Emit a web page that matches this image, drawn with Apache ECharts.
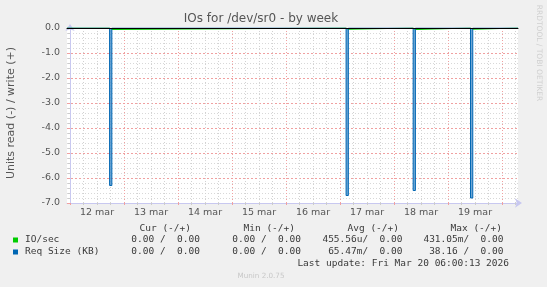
<!DOCTYPE html>
<html>
<head>
<meta charset="utf-8">
<script src="https://cdn.jsdelivr.net/npm/echarts@6/dist/echarts.min.js"></script>
<style>html,body{margin:0;padding:0;background:#f0f0f0;}#c{width:547px;height:287px;}</style>
</head>
<body>
<div id="c"></div>
<script>
// ---- data (hours since 12 mar 00:00) ----
var xMin = -4 / 3;
var xMax = 199.1;
var dayBoundaries = [0, 24, 48, 72, 96, 120, 144, 168, 192];
var sixHourLines = [6, 12, 18, 30, 36, 42, 54, 60, 66, 78, 84, 90, 102, 108, 114, 126, 132, 138, 150, 156, 162, 174, 180, 186, 198];
var dayLabelHours = [12, 36, 60, 84, 108, 132, 156, 180];
var dayLabels = ['12 mar', '13 mar', '14 mar', '15 mar', '16 mar', '17 mar', '18 mar', '19 mar'];
var spikeHours = [18.1, 123.2, 153.0, 178.5];
var reqSizeValues = [-6.3, -6.7, -6.5, -6.8];
var ioSecValues = [-0.06, -0.05, -0.06, -0.05];
var sampleHours = 1;

var legendNames = ['IO/sec', 'Req Size (KB)'];
var legendColors = ['#00cc00', '#0066b3'];
var curCol = ['0.00 /  0.00', '0.00 /  0.00'];
var minCol = ['0.00 /  0.00', '0.00 /  0.00'];
var avgCol = ['455.56u/  0.00', '65.47m/  0.00'];
var maxCol = ['431.05m/  0.00', '38.16 /  0.00'];
var headers = ['Cur (-/+)', 'Min (-/+)', 'Avg (-/+)', 'Max (-/+)'];
var lastUpdate = 'Last update: Fri Mar 20 06:00:13 2026';

function buildSteps(hours, values) {
  var d = [[xMin, 0]];
  for (var i = 0; i < hours.length; i++) {
    var a = hours[i] - sampleHours / 2, b = hours[i] + sampleHours / 2;
    d.push([a, 0], [a, values[i]], [b, values[i]], [b, 0]);
  }
  d.push([xMax, 0]);
  return d;
}

var chart = echarts.init(document.getElementById('c'), null, {renderer: 'canvas'});
var mono = 'DejaVu Sans Mono';
var sans = 'DejaVu Sans';
var txtColor = '#3a3a3a';

var graphics = [];
graphics.push({type: 'text', x: 261, y: 19, style: {text: 'IOs for /dev/sr0 - by week', font: '12px "DejaVu Sans"', fill: '#555', align: 'center', verticalAlign: 'middle'}});
graphics.push({type: 'text', x: 11, y: 113, rotation: Math.PI / 2, style: {text: 'Units read (-) / write (+)', font: '11px "DejaVu Sans"', fill: '#555', align: 'center', verticalAlign: 'middle'}});
graphics.push({type: 'text', x: 539, y: 53, rotation: -Math.PI / 2, style: {text: 'RRDTOOL / TOBI OETIKER', font: '7.5px "DejaVu Sans"', fill: '#d0d0d0', align: 'center', verticalAlign: 'middle'}});
var colRight = [191, 295, 399, 502];
for (var h = 0; h < headers.length; h++) {
  graphics.push({type: 'text', x: colRight[h], y: 228.5, style: {text: headers[h], font: '9.5px "' + mono + '"', fill: txtColor, align: 'right', verticalAlign: 'middle'}});
}
var valRight = [200, 301, 402.5, 503.5];
var cols = [curCol, minCol, avgCol, maxCol];
for (var r = 0; r < legendNames.length; r++) {
  var yy = 240 + r * 12;
  graphics.push({type: 'rect', shape: {x: 13, y: yy - 2.5, width: 5, height: 5}, style: {fill: legendColors[r]}});
  graphics.push({type: 'text', x: 25, y: yy, style: {text: legendNames[r], font: '9.5px "' + mono + '"', fill: txtColor, align: 'left', verticalAlign: 'middle'}});
  for (var c = 0; c < cols.length; c++) {
    graphics.push({type: 'text', x: valRight[c], y: yy, style: {text: cols[c][r], font: '9.5px "' + mono + '"', fill: txtColor, align: 'right', verticalAlign: 'middle'}});
  }
}
graphics.push({type: 'text', x: 509, y: 264, style: {text: lastUpdate, font: '9.5px "' + mono + '"', fill: txtColor, align: 'right', verticalAlign: 'middle'}});
graphics.push({type: 'text', x: 261, y: 276.5, style: {text: 'Munin 2.0.75', font: '7.2px "DejaVu Sans"', fill: '#c8c8c8', align: 'center', verticalAlign: 'middle'}});

var axisColor = '#c8c8f0';
var option = {
  backgroundColor: '#f0f0f0',
  animation: false,
  textStyle: {fontFamily: sans},
  grid: {left: 67, right: 29, top: 28, bottom: 84, show: true, backgroundColor: '#ffffff', borderWidth: 0},
  xAxis: [
    {
      type: 'value', min: xMin, max: xMax, position: 'bottom',
      axisLine: {show: false, onZero: false},
      axisTick: {show: true, customValues: sixHourLines, length: 2, lineStyle: {color: '#cccccc'}},
      axisLabel: {show: false},
      splitLine: {show: true, lineStyle: {color: '#d2d2d2', type: [1, 2], width: 1}}
    },
    {
      type: 'value', min: xMin, max: xMax, position: 'bottom',
      axisLine: {show: true, onZero: false, symbol: ['none', 'arrow'], symbolSize: [7, 7], symbolOffset: [0, 4], lineStyle: {color: axisColor, width: 1}},
      axisTick: {show: true, customValues: dayBoundaries, length: 2, lineStyle: {color: '#f0a0a0'}},
      axisLabel: {show: true, customValues: dayLabelHours, color: '#555', fontSize: 9.5, fontFamily: sans, margin: 5,
        formatter: function (v) { return dayLabels[Math.round((v - 12) / 24)]; }},
      splitLine: {show: true, lineStyle: {color: '#f0a0a0', type: [1, 2], width: 1}}
    },
    {
      type: 'value', min: xMin, max: xMax, position: 'top', z: 10,
      axisLine: {show: true, onZero: false, lineStyle: {color: '#000', width: 1}},
      axisTick: {show: false}, axisLabel: {show: false}, splitLine: {show: false}
    }
  ],
  yAxis: {
    type: 'value', min: -7, max: 0, interval: 1,
    axisLine: {show: true, symbol: ['none', 'arrow'], symbolSize: [7, 7], symbolOffset: [0, 4], lineStyle: {color: axisColor, width: 1}},
    axisTick: {show: true, length: 3, lineStyle: {color: '#f0a0a0'}},
    minorTick: {show: true, splitNumber: 5, length: 2, lineStyle: {color: '#cccccc'}},
    axisLabel: {color: '#555', fontSize: 9.5, fontFamily: sans, margin: 7, formatter: function (v) { return v.toFixed(1); }},
    splitLine: {show: true, lineStyle: {color: '#f0a0a0', type: [2, 2], width: 1}},
    minorSplitLine: {show: true, lineStyle: {color: '#d8d8d8', type: [1, 2], width: 1}}
  },
  series: [
    {name: 'IO/sec', type: 'line', xAxisIndex: 1, data: buildSteps(spikeHours, ioSecValues), showSymbol: false, symbol: 'none',
      lineStyle: {color: '#00cc00', width: 1}, silent: true},
    {name: 'Req Size (KB)', type: 'line', xAxisIndex: 1, data: buildSteps(spikeHours, reqSizeValues), showSymbol: false, symbol: 'none',
      lineStyle: {color: '#0066b3', width: 1}, areaStyle: {color: '#4d94cc', opacity: 0.8}, silent: true}
  ],
  graphic: graphics
};
chart.setOption(option);
</script>
</body>
</html>
